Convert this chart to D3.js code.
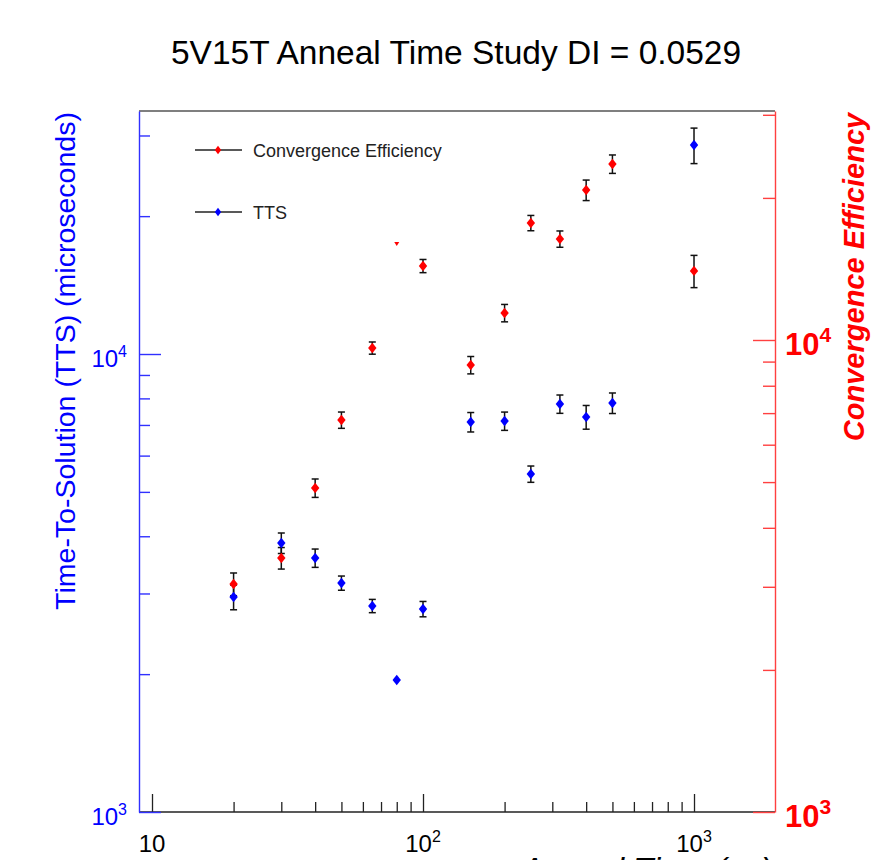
<!DOCTYPE html>
<html><head><meta charset="utf-8">
<script src="https://cdn.jsdelivr.net/npm/d3@7"></script>
<style>body{margin:0;background:#fff} svg{display:block}</style>
</head><body>
<svg id="c" width="871" height="860"></svg>
<script>
// ---- data ----
const annealTimes = [20, 30, 40, 50, 65, 80, 100, 150, 200, 250, 320, 400, 500, 1000];
const ttsValues   = [2947, 3867, 3586, 3162, 2818, 1942, 2775, 7104, 7140, 5470, 7779, 7286, 7817, 28590];
const ttsErrors   = [183, 199, 165, 113, 94, 0, 107, 347, 328, 224, 358, 434, 403, 2545];
const ceValues    = [3041, 3452, 4858, 6768, 9617, 15970, 14350, 8851, 11410, 17700, 16370, 20780, 23600, 14010];
const ceErrors    = [168, 181, 218, 269, 286, 0, 462, 375, 484, 660, 651, 1039, 1060, 1100];
const ceTinyMarkerAt = [80];
const xMajorTicks = [10, 100, 1000];
const xMinorTicks = [20,30,40,50,60,70,80,90,200,300,400,500,600,700,800,900];
const yMajorTicks = [1000, 10000];
const yLeftMinor  = [2000,3000,4000,5000,6000,7000,8000,9000,20000,30000];
const yRightMinor = [2000,3000,4000,5000,6000,7000,8000,9000,20000,30000];
const titleText = "5V15T Anneal Time Study DI = 0.0529";
const xTitle = "Anneal Time (\u03bcs)";
const yLeftTitle = "Time-To-Solution (TTS) (microseconds)";
const yRightTitle = "Convergence Efficiency";
const legendLabels = ["Convergence Efficiency", "TTS"];

// ---- layout ----
const font = "'Liberation Sans', Arial, Helvetica, sans-serif";
const F = {left:139, right:775, top:111, bottom:812};
const BLUE = "#0000ff", RED = "#ff0000";
const svg = d3.select("#c");

const x  = d3.scaleLog().domain([8.954, 1990]).range([F.left, F.right]);
const yL = d3.scaleLog().domain([1000, 33930]).range([F.bottom, F.top]);
const yR = d3.scaleLog().domain([1000, 30560]).range([F.bottom, F.top]);

// top frame line
svg.append("line").attr("x1",F.left).attr("x2",F.right).attr("y1",F.top).attr("y2",F.top)
  .attr("stroke","#555").attr("stroke-width",1.5);

// x axis (ticks upward)
function styleAxis(g, color, w){ g.selectAll("path,line").attr("stroke",color).attr("stroke-width",w); g.selectAll("text").remove(); }
svg.append("g").attr("transform",`translate(0,${F.bottom})`)
  .call(d3.axisBottom(x).tickValues(xMajorTicks).tickSize(-18).tickSizeOuter(0).tickFormat(""))
  .call(g=>{ styleAxis(g,"#222",1.3); g.select(".domain").attr("d",`M${F.left},0H${F.right}`); });
svg.append("g").attr("transform",`translate(0,${F.bottom})`)
  .call(d3.axisBottom(x).tickValues(xMinorTicks).tickSize(-10).tickSizeOuter(0).tickFormat(""))
  .call(g=>{ styleAxis(g,"#222",1.3); g.select(".domain").remove(); });

// left axis
svg.append("g").attr("transform",`translate(${F.left},0)`)
  .call(d3.axisLeft(yL).tickValues(yMajorTicks).tickSize(-22).tickSizeOuter(0).tickFormat(""))
  .call(g=>styleAxis(g,"#3030ff",1.4));
svg.append("g").attr("transform",`translate(${F.left},0)`)
  .call(d3.axisLeft(yL).tickValues(yLeftMinor).tickSize(-11).tickSizeOuter(0).tickFormat(""))
  .call(g=>{ styleAxis(g,"#3030ff",1.4); g.select(".domain").remove(); });

// right axis
svg.append("g").attr("transform",`translate(${F.right},0)`)
  .call(d3.axisRight(yR).tickValues(yMajorTicks).tickSize(-22).tickSizeOuter(0).tickFormat(""))
  .call(g=>styleAxis(g,"#ff4040",1.4));
svg.append("g").attr("transform",`translate(${F.right},0)`)
  .call(d3.axisRight(yR).tickValues(yRightMinor).tickSize(-12).tickSizeOuter(0).tickFormat(""))
  .call(g=>{ styleAxis(g,"#ff4040",1.4); g.select(".domain").remove(); });

// power label helper
function powLabel(xp, yp, v, anchor, color, size, supSize, weight){
  const e = Math.round(Math.log10(v));
  const t = svg.append("text").attr("x",xp).attr("y",yp).attr("text-anchor",anchor)
    .attr("fill",color).attr("font-family",font).attr("font-size",size).attr("font-weight",weight||"normal");
  if (e === 1) { t.text("10"); return; }
  t.append("tspan").text("10");
  t.append("tspan").attr("font-size",supSize).attr("dy",-size*0.42).text(e);
}
xMajorTicks.forEach(v=>powLabel(x(v), F.bottom+40, v, "middle", "#000", 24, 16));
yMajorTicks.forEach(v=>powLabel(F.left-12, yL(v)+13, v, "end", BLUE, 24, 16));
yMajorTicks.forEach(v=>powLabel(F.right+10, yR(v)+15, v, "start", RED, 31, 21, "bold"));

// titles
svg.append("text").attr("x",456).attr("y",64).attr("text-anchor","middle")
  .attr("font-family",font).attr("font-size",33.5).attr("fill","#000").text(titleText);
svg.append("text").attr("transform","translate(75,361) rotate(-90)").attr("text-anchor","middle")
  .attr("font-family",font).attr("font-size",28.5).attr("fill",BLUE).text(yLeftTitle);
svg.append("text").attr("transform","translate(864,277) rotate(-90)").attr("text-anchor","middle")
  .attr("font-family",font).attr("font-size",29).attr("font-weight","bold").attr("font-style","italic")
  .attr("fill",RED).text(yRightTitle);
svg.append("text").attr("x",772).attr("y",881).attr("text-anchor","end")
  .attr("font-family",font).attr("font-size",33).attr("font-style","italic").attr("fill","#000").text(xTitle);

// markers
const diamond = (cx,cy,hw,hh)=>`M${cx},${cy-hh}L${cx+hw},${cy}L${cx},${cy+hh}L${cx-hw},${cy}Z`;
function errBars(vals, errs, y){
  const g = svg.append("g").attr("stroke","#111").attr("stroke-width",1.5);
  annealTimes.forEach((t,i)=>{
    if (!errs[i]) return;
    const cx = x(t), y1 = y(vals[i]+errs[i]), y2 = y(vals[i]-errs[i]);
    g.append("line").attr("x1",cx).attr("x2",cx).attr("y1",y1).attr("y2",y2);
    g.append("line").attr("x1",cx-3.5).attr("x2",cx+3.5).attr("y1",y1).attr("y2",y1);
    g.append("line").attr("x1",cx-3.5).attr("x2",cx+3.5).attr("y1",y2).attr("y2",y2);
  });
}
errBars(ceValues, ceErrors, yR);
errBars(ttsValues, ttsErrors, yL);
annealTimes.forEach((t,i)=>{
  const cx = x(t), cy = yR(ceValues[i]);
  if (ceTinyMarkerAt.includes(t)) {
    svg.append("path").attr("d",`M${cx-2.5},${cy-2}L${cx+2.5},${cy-2}L${cx},${cy+2}Z`).attr("fill",RED);
  } else {
    svg.append("path").attr("d",diamond(cx,cy,4.2,5.2)).attr("fill",RED);
  }
});
annealTimes.forEach((t,i)=>{
  svg.append("path").attr("d",diamond(x(t),yL(ttsValues[i]),4.2,5.2)).attr("fill",BLUE);
});

// legend
const legendColors = [RED, BLUE];
const legendY = [150, 212];
legendLabels.forEach((lab,i)=>{
  const ly = legendY[i];
  svg.append("line").attr("x1",195).attr("x2",242).attr("y1",ly).attr("y2",ly).attr("stroke","#222").attr("stroke-width",1.5);
  svg.append("path").attr("d",diamond(218,ly,3.2,4.2)).attr("fill",legendColors[i]);
  svg.append("text").attr("x",253).attr("y",ly+6.5).attr("font-family",font).attr("font-size",18)
    .attr("fill","#222").text(lab);
});
</script>
</body></html>
